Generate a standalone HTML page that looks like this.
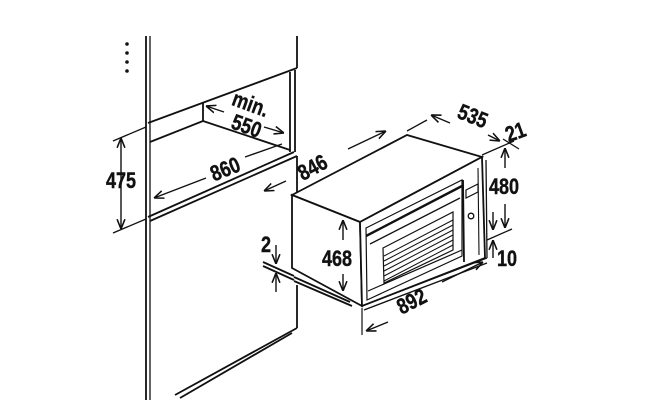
<!DOCTYPE html>
<html><head><meta charset="utf-8"><style>
html,body{margin:0;padding:0;background:#fff;}
svg{display:block}
text{font-family:"Liberation Sans",sans-serif;font-weight:bold;font-size:22px;fill:#111;stroke:#111;stroke-width:0.4;}
</style></head><body>
<svg width="650" height="400" viewBox="0 0 650 400" xmlns="http://www.w3.org/2000/svg">
<defs>
<marker id="a" viewBox="0 0 10 10" refX="10" refY="5" markerWidth="7" markerHeight="7" orient="auto-start-reverse"><path d="M0,1 L10,5 L0,9" fill="none" stroke="#111" stroke-width="1.6"/></marker>
</defs>
<g stroke="#111" stroke-width="1.8" fill="none">
<g fill="#111" stroke="none"><circle cx="127" cy="44" r="1.8"/><circle cx="127" cy="53" r="1.8"/><circle cx="127" cy="62" r="1.8"/><circle cx="127" cy="71" r="1.8"/></g>
<line x1="146" y1="36" x2="146" y2="400"/><line x1="150" y1="36" x2="150" y2="400" stroke-width="1.3"/>
<line x1="297" y1="36" x2="297" y2="68"/>
<line x1="148" y1="123" x2="297" y2="68"/>
<line x1="290" y1="72" x2="290" y2="152"/><line x1="295" y1="70" x2="295" y2="152"/>
<line x1="203" y1="103" x2="203" y2="121"/>
<line x1="150" y1="142" x2="203" y2="121"/>
<line x1="203" y1="121" x2="290" y2="150"/>
<line x1="148" y1="217" x2="294" y2="152"/><line x1="150" y1="221" x2="297" y2="156"/>
<line x1="297" y1="156" x2="297" y2="196"/>
<line x1="297" y1="285" x2="297" y2="328"/>
<line x1="297" y1="328" x2="175" y2="395"/><line x1="292" y1="333" x2="180" y2="398"/>
<line x1="113" y1="141" x2="146" y2="127" stroke-width="1.3"/>
<line x1="113" y1="233" x2="146" y2="219" stroke-width="1.3"/>
<line x1="121" y1="229" x2="121" y2="138" marker-start="url(#a)" marker-end="url(#a)" stroke-width="1.4"/>
<line x1="206" y1="178" x2="154" y2="198" marker-end="url(#a)" stroke-width="1.4"/>
<line x1="245" y1="157" x2="282" y2="144" stroke-width="1.4"/>
<line x1="224" y1="112" x2="206" y2="106" marker-end="url(#a)" stroke-width="1.4"/>
<line x1="264" y1="127" x2="284" y2="133" marker-end="url(#a)" stroke-width="1.4"/>
<line x1="263" y1="262" x2="294" y2="276"/><line x1="263" y1="266" x2="294" y2="280"/>
<line x1="276" y1="245" x2="276" y2="264" marker-end="url(#a)" stroke-width="1.4"/>
<line x1="276" y1="292" x2="276" y2="273" marker-end="url(#a)" stroke-width="1.4"/>
<polygon points="292,195 407,135 482,157 360,222" fill="#fff"/>
<polygon points="292,195 360,222 362,306 292,268" fill="#fff"/>
<polygon points="360,222 482,157 485,258 362,306" fill="#fff"/>
<line x1="486" y1="160" x2="487" y2="258" stroke-width="1.3"/>
<line x1="294" y1="277" x2="350" y2="302"/><line x1="294" y1="281" x2="352" y2="306"/>
<line x1="362" y1="306" x2="487" y2="258" stroke-width="1.3"/>
<line x1="364" y1="310" x2="487" y2="263" stroke-width="1.3"/>
<polygon points="366,228 462,180 462,256 367,300" stroke-width="1.2"/>
<line x1="366" y1="236" x2="462" y2="186" stroke-width="2.4"/>
<line x1="370" y1="244" x2="460" y2="198" stroke-width="1.3"/>
<polygon points="383,248 453,212 453,250 384,283" stroke-width="1.2"/>
<g stroke-width="1">
<line x1="384" y1="256" x2="453" y2="220"/><line x1="384" y1="261" x2="453" y2="225"/>
<line x1="384" y1="266" x2="453" y2="230"/><line x1="384" y1="271" x2="453" y2="235"/>
<line x1="384" y1="276" x2="453" y2="240"/><line x1="384" y1="281" x2="453" y2="245"/>
</g>
<line x1="368" y1="291" x2="462" y2="250" stroke-width="1.2"/>
<line x1="463" y1="180" x2="464" y2="262"/>
<line x1="478" y1="168" x2="479" y2="255" stroke-width="1.1"/>
<polygon points="466,190 478,184 478,192 466,198" stroke-width="1.2"/>
<circle cx="471" cy="216" r="2.8" stroke-width="1.3"/>
<line x1="343" y1="240" x2="343" y2="220" marker-end="url(#a)" stroke-width="1.4"/>
<line x1="343" y1="274" x2="343" y2="291" marker-end="url(#a)" stroke-width="1.4"/>
<line x1="286" y1="181" x2="264" y2="191" marker-end="url(#a)" stroke-width="1.4"/>
<line x1="348" y1="149" x2="386" y2="131" marker-end="url(#a)" stroke-width="1.4"/>
<line x1="362" y1="308" x2="362" y2="335" stroke-width="1.2"/>
<line x1="388" y1="322" x2="366" y2="331" marker-end="url(#a)" stroke-width="1.4"/>
<line x1="442" y1="282" x2="483" y2="262" marker-end="url(#a)" stroke-width="1.4"/>
<line x1="407" y1="131" x2="427" y2="120" stroke-width="1.3"/>
<line x1="450" y1="123" x2="431" y2="115" marker-end="url(#a)" stroke-width="1.4"/>
<line x1="488" y1="135" x2="500" y2="141" marker-end="url(#a)" stroke-width="1.4"/>
<line x1="482" y1="155" x2="514" y2="141" stroke-width="1.3"/>
<line x1="503" y1="139" x2="519" y2="149" stroke-width="1.3"/>
<line x1="505" y1="168" x2="505" y2="148" marker-end="url(#a)" stroke-width="1.4"/>
<line x1="505" y1="204" x2="505" y2="228" marker-end="url(#a)" stroke-width="1.4"/>
<line x1="487" y1="240" x2="512" y2="229" stroke-width="1.3"/>
<line x1="493" y1="212" x2="493" y2="230" marker-end="url(#a)" stroke-width="1.4"/>
<line x1="493" y1="258" x2="493" y2="240" marker-end="url(#a)" stroke-width="1.4"/>
</g>
<g>
<text x="0" y="0" text-anchor="middle" transform="translate(121,188) scale(0.82,1)">475</text>
<text x="0" y="0" text-anchor="middle" transform="translate(228,176) rotate(-22) scale(0.82,1)">860</text>
<text x="0" y="0" text-anchor="middle" transform="translate(248,111) rotate(20) scale(0.82,1)">min.</text>
<text x="0" y="0" text-anchor="middle" transform="translate(244,133) rotate(20) scale(0.82,1)">550</text>
<text x="0" y="0" text-anchor="middle" transform="translate(316,174) rotate(-28) scale(0.82,1)">846</text>
<text x="0" y="0" text-anchor="middle" transform="translate(470,123) rotate(22) scale(0.82,1)">535</text>
<text x="0" y="0" text-anchor="middle" transform="translate(518,139) rotate(-20) scale(0.82,1)">21</text>
<text x="0" y="0" text-anchor="middle" transform="translate(504,194) scale(0.82,1)">480</text>
<text x="0" y="0" text-anchor="middle" transform="translate(337,266) scale(0.82,1)">468</text>
<text x="0" y="0" text-anchor="middle" transform="translate(415,308) rotate(-27) scale(0.82,1)">892</text>
<text x="0" y="0" text-anchor="middle" transform="translate(266,252) scale(0.82,1)">2</text>
<text x="0" y="0" text-anchor="middle" transform="translate(507,266) scale(0.82,1)">10</text>
</g>
</svg>
</body></html>
